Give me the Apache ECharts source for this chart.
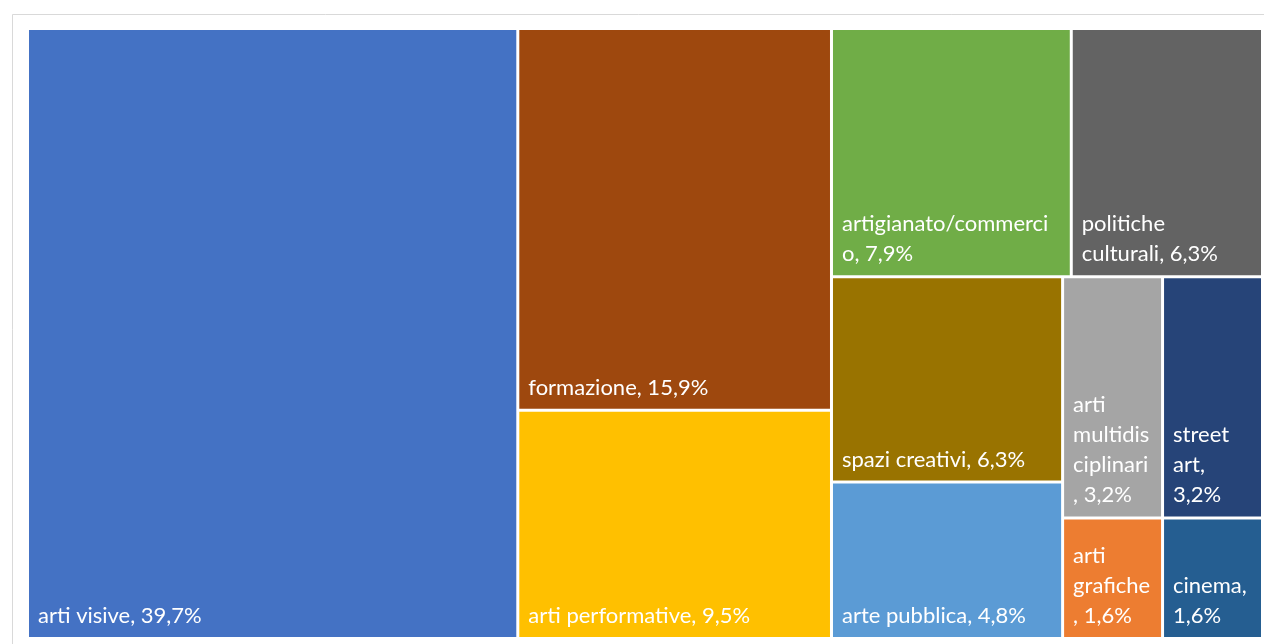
<!DOCTYPE html>
<html>
<head>
<meta charset="utf-8">
<script src="https://cdn.jsdelivr.net/npm/echarts@6/dist/echarts.min.js"></script>
<style>
html,body{margin:0;padding:0;background:#ffffff;}
#chart{width:1264px;height:644px;}
</style>
</head>
<body>
<div id="chart"></div>
<script>
// Categories in the order Excel laid them out
const categories = [
  'arti visive', 'formazione', 'arti performative', 'artigianato/commercio',
  'politiche culturali', 'spazi creativi', 'arte pubblica',
  'arti multidisciplinari', 'street art', 'arti grafiche', 'cinema'
];
// Share of projects (%)
const shares = [39.7, 15.9, 9.5, 7.9, 6.3, 6.3, 4.8, 3.2, 3.2, 1.6, 1.6];
// Label text as wrapped in the reference
const labelText = [
  'arti visive, 39,7%',
  'formazione, 15,9%',
  'arti performative, 9,5%',
  'artigianato/commerci\no, 7,9%',
  'politiche\nculturali, 6,3%',
  'spazi creativi, 6,3%',
  'arte pubblica, 4,8%',
  'arti\nmultidis\nciplinari\n, 3,2%',
  'street\nart,\n3,2%',
  'arti\ngrafiche\n, 1,6%',
  'cinema,\n1,6%'
];
const colors = [
  '#4472C4', '#9E480E', '#FFC000', '#70AD47', '#636363', '#997300',
  '#5B9BD5', '#A5A5A5', '#264478', '#ED7D31', '#255E91'
];

const data = categories.map((name, i) => ({
  name: name,
  value: shares[i],
  label: { formatter: labelText[i] },
  itemStyle: { color: colors[i] }
}));

const chart = echarts.init(document.getElementById('chart'), null, { renderer: 'canvas' });
chart.setOption({
  animation: false,
  backgroundColor: '#ffffff',
  graphic: [{
    type: 'rect',
    shape: { x: 12.5, y: 14.5, width: 1270, height: 650 },
    style: { fill: 'none', stroke: '#d9d9d9', lineWidth: 1 },
    silent: true
  }],
  series: [{
    type: 'treemap',
    left: 29, top: 30, width: 1232, height: 607,
    sort: false,
    squareRatio: 1.45,
    roam: false,
    nodeClick: false,
    breadcrumb: { show: false },
    visibleMin: 0,
    itemStyle: { borderWidth: 0, gapWidth: 3, borderColor: '#ffffff' },
    label: {
      show: true,
      position: 'insideBottomLeft',
      distance: 0,
      padding: [0, 0, 6, 9],
      color: '#ffffff',
      fontFamily: 'Lato, "Noto Sans", sans-serif',
      fontSize: 22,
      lineHeight: 30,
      overflow: 'none'
    },
    upperLabel: { show: false },
    emphasis: { disabled: true },
    data: data
  }]
});
</script>
</body>
</html>
